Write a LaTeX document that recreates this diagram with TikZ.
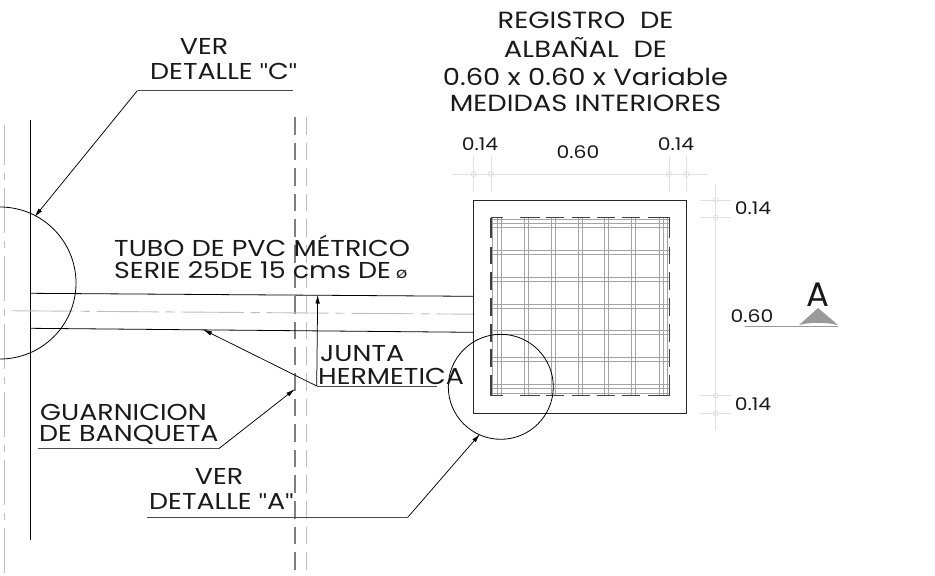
\documentclass[tikz,border=0pt]{standalone}
\usepackage{fontspec}
\setmainfont{Poppins}[FakeStretch=1.17]
\newfontfamily\quotefont{Liberation Sans}
\newfontfamily\sectionfont{Poppins}
\usetikzlibrary{arrows.meta}
\definecolor{ink}{HTML}{1A1A1A}
\definecolor{dimgray}{HTML}{E2E2E2}
\definecolor{rebar}{HTML}{A4A4A4}
\definecolor{dashdark}{HTML}{808080}
\definecolor{dashlight}{HTML}{BEBEBE}
\tikzset{
  lbl/.style={inner sep=0pt,text=ink,font=\fontsize{23}{23}\selectfont,anchor=base west},
  dimlbl/.style={inner sep=0pt,text=ink,font=\fontsize{17.4}{17.4}\selectfont,anchor=base},
  ttl/.style={inner sep=0pt,text=ink,font=\fontsize{23.4}{23.4}\selectfont,anchor=base},
  thinline/.style={draw=black,line width=0.8pt},
  leader/.style={draw=black,line width=0.75pt,-{Latex[length=9pt,width=4.5pt]}},
  shelf/.style={draw=black!70,line width=1pt},
  dimline/.style={draw=dimgray,line width=0.9pt},
  tickdot/.style={draw=dimgray,line width=0.9pt,circle,minimum size=5pt,inner sep=0pt},
  rebarline/.style={draw=rebar,line width=1pt},
}
\newcommand{\rebarV}[1]{\draw[rebarline] (#1-2,217.5)--(#1-2,395.5) (#1+2,217.5)--(#1+2,395.5);}
\newcommand{\rebarH}[1]{\draw[rebarline] (491,#1-2)--(669.5,#1-2) (491,#1+2)--(669.5,#1+2);}
\newcommand{\qm}{{\quotefont\char34}}
\begin{document}
\begin{tikzpicture}[x=1pt,y=-1pt]
\useasboundingbox (0,0) rectangle (935,576);
% --- centre lines and sidewalk
\draw[dashlight,line width=0.9pt,dash pattern=on 45pt off 8pt on 7pt off 8pt,dash phase=5pt] (4.7,125)--(4.7,576);
\draw[dashdark,line width=1.2pt,dash pattern=on 17.5pt off 8.1pt] (295,117)--(295,576);
\draw[dashlight,line width=1pt,dash pattern=on 17.5pt off 8.1pt] (306.5,117)--(306.5,576);
\draw[thinline] (30.3,120)--(30.3,540);
% --- pipe
\coordinate (pul) at (30.3,293.3); \coordinate (pur) at (473.3,296.3);
\coordinate (pll) at (30.3,328.3); \coordinate (plr) at (473.3,332.3);
\draw[thinline] (pul)--(pur);
\draw[thinline] (pll)--(plr);
\draw[dashlight,line width=0.9pt,dash pattern=on 62pt off 7pt on 9pt off 7pt,dash phase=78.3pt] (5,310.7)--(473.3,314.2);
% --- registro
\coordinate (bxa) at (473.3,200); \coordinate (bxb) at (686.7,413.3);
\draw[thinline,draw=black!85] (bxa) rectangle (bxb);
\rebarV{499.5}\rebarV{526.3}\rebarV{553.3}\rebarV{580}\rebarV{606.7}\rebarV{633.7}\rebarV{661.2}
\draw[rebarline] (492.8,217.5)--(492.8,395.5) (667.4,217.5)--(667.4,395.5);
\rebarH{225}\rebarH{252.3}\rebarH{279.3}\rebarH{306.3}\rebarH{332.7}\rebarH{359.7}\rebarH{386}
\draw[rebarline] (491,219.5)--(669.5,219.5) (491,393.3)--(669.5,393.3);
\begin{scope}[line width=1.1pt,black!75]
\draw (491,217.5)--(502.5,217.5) (520,217.5)--(539.5,217.5) (546,217.5)--(564,217.5) (571.5,217.5)--(589.5,217.5) (596.5,217.5)--(615,217.5) (621.5,217.5)--(640,217.5) (647.5,217.5)--(669.5,217.5);
\draw (491,395.5)--(502.5,395.5) (520,395.5)--(539.5,395.5) (546,395.5)--(564,395.5) (571.5,395.5)--(589.5,395.5) (596.5,395.5)--(615,395.5) (621.5,395.5)--(640,395.5) (647.5,395.5)--(669.5,395.5);
\draw (491,217.5)--(491,237.5) (491,246.5)--(491,263.5) (491,272)--(491,290) (491,298)--(491,316) (491,324)--(491,342) (491,349)--(491,367) (491,375)--(491,395.5);
\draw (669.5,217.5)--(669.5,237.5) (669.5,246.5)--(669.5,263.5) (669.5,272)--(669.5,290) (669.5,298)--(669.5,316) (669.5,324)--(669.5,342) (669.5,349)--(669.5,367) (669.5,375)--(669.5,395.5);
\end{scope}
% --- detail circles
\begin{scope}
\clip (0,0) rectangle (935,576);
\node[draw=black,line width=0.8pt,circle,minimum size=152pt,inner sep=0pt] (cC) at (0,283) {};
\end{scope}
\node[draw=black,line width=0.8pt,circle,minimum size=105pt,inner sep=0pt] (cA) at (500.8,386.8) {};
% --- dimension lines
\draw[dimline] (452,174)--(708,174);
\foreach \n/\x in {a/473.5,b/491,c/669,d/686.7}{
  \draw[dimline] (\x,156)--(\x,192);
  \node[tickdot] (dh\n) at (\x,174) {};
}
\draw[dimline] (715.7,184)--(715.7,430);
\foreach \n/\y in {a/200,b/217.5,c/395.5,d/413.3}{
  \draw[dimline] (700,\y)--(731,\y);
  \node[tickdot] (dv\n) at (715.7,\y) {};
}
% --- leaders
\coordinate (lC1) at (293,90.5); \coordinate (lC2) at (137.5,90.5); \coordinate (lC3) at (34.5,217);
\draw[shelf] (lC1)--(lC2);
\draw[leader] (lC2)--(lC3);
\coordinate (lG1) at (38,448.5); \coordinate (lG2) at (219,448.5); \coordinate (lG3) at (295,389);
\draw[shelf] (lG1)--(lG2);
\draw[leader] (lG2)--(lG3);
\coordinate (lJ1) at (436.7,386); \coordinate (lJ2) at (316.7,386); \coordinate (lJ3) at (203,329.5); \coordinate (lJ4) at (317.7,294.5);
\draw[shelf] (lJ1)--(lJ2);
\draw[leader] (lJ2)--(lJ3);
\draw[leader] (lJ2)--(lJ4);
\coordinate (lA1) at (147,517); \coordinate (lA2) at (408,517); \coordinate (lA3) at (480,434);
\draw[shelf] (lA1)--(lA2);
\draw[leader] (lA2)--(lA3);
% --- section mark
\coordinate (sL) at (745,326.5); \coordinate (sR) at (838,326.5);
\draw[draw=black!40,line width=1pt] (sL)--(sR);
\fill[black!40] (818,308) -- (838,325) .. controls (825,322) and (811,322) .. (799,325) -- cycle;
% --- labels
\node[ttl] (t1) at (585.5,28.5) {REGISTRO\ \ DE};
\node[ttl] (t2) at (585.5,57) {ALBAÑAL\ \ DE};
\node[ttl] (t3) at (585.5,85.5) {0.60 x 0.60 x Variable};
\node[ttl] (t4) at (585.5,111.7) {MEDIDAS INTERIORES};
\node[dimlbl] (d1) at (480,150) {0.14};
\node[dimlbl] (d2) at (578,158) {0.60};
\node[dimlbl] (d3) at (676,150) {0.14};
\node[dimlbl] (d4) at (753,214) {0.14};
\node[dimlbl] (d5) at (752,322) {0.60};
\node[dimlbl] (d6) at (753,410) {0.14};
\node[lbl,anchor=base] (secA) at (818,306) {\sectionfont\fontsize{34}{34}\selectfont A};
\node[lbl,anchor=base] (v1) at (204,54) {VER};
\node[lbl] (v2) at (150,79) {DETALLE \qm C\qm};
\node[lbl] (tu1) at (114,256) {TUBO DE PVC MÉTRICO};
\node[lbl] (tu2) at (114,278) {SERIE 25DE 15 cms DE\hspace{-2pt} {\fontsize{15}{15}\selectfont ø}};
\node[lbl] (j1) at (320,361) {JUNTA};
\node[lbl] (j2) at (318,384) {HERMETICA};
\node[lbl] (g1) at (40,420) {GUARNICION};
\node[lbl] (g2) at (39,441) {DE BANQUETA};
\node[lbl,anchor=base] (v3) at (219,484) {VER};
\node[lbl] (v4) at (149,509) {DETALLE \qm A\qm};
\end{tikzpicture}
\end{document}
